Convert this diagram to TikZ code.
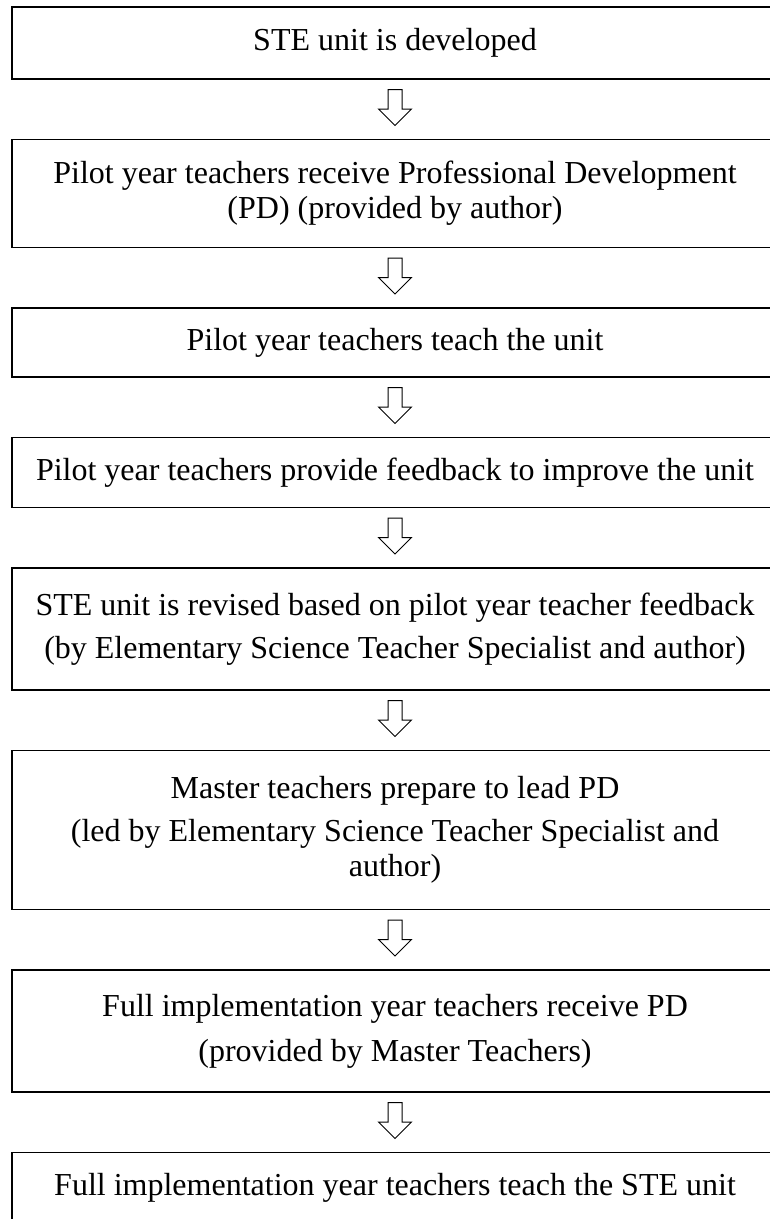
\documentclass[tikz,border=0pt]{standalone}
\usepackage{fontspec}
\setmainfont{Liberation Serif}
\usetikzlibrary{positioning,shapes.arrows}

\begin{document}
\begin{tikzpicture}[
  stepbox/.style={draw,line width=1.7pt,minimum width=766pt,minimum height=#1,
                  align=center,inner sep=0pt,outer sep=0pt,
                  font=\fontsize{32}{35}\selectfont},
  downarr/.style={single arrow,draw,line width=1pt,shape border rotate=270,
                  minimum height=36pt,inner sep=6.5pt,outer sep=0pt,
                  single arrow head extend=9.5pt,single arrow head indent=0pt}
]
\useasboundingbox (0,0) rectangle (770pt,-1219pt);

\node[stepbox=72pt,anchor=north] (s1) at (395pt,-7pt)
  {STE unit is developed};
\node[downarr,below=10.5pt of s1] (a1) {};
\node[stepbox=108pt,below=14pt of a1] (s2)
  {Pilot year teachers receive Professional Development\\(PD) (provided by author)};
\node[downarr,below=10.5pt of s2] (a2) {};
\node[stepbox=69pt,below=14pt of a2] (s3)
  {Pilot year teachers teach the unit};
\node[downarr,below=10.5pt of s3] (a3) {};
\node[stepbox=70pt,below=14pt of a3] (s4)
  {Pilot year teachers provide feedback to improve the unit};
\node[downarr,below=10.5pt of s4] (a4) {};
\node[stepbox=122pt,below=14pt of a4] (s5)
  {STE unit is revised based on pilot year teacher feedback\\[8pt]
   (by Elementary Science Teacher Specialist and author)};
\node[downarr,below=10.5pt of s5] (a5) {};
\node[stepbox=159pt,below=14pt of a5] (s6)
  {Master teachers prepare to lead PD\\[8pt]
   (led by Elementary Science Teacher Specialist and\\author)};
\node[downarr,below=10.5pt of s6] (a6) {};
\node[stepbox=122pt,below=14pt of a6] (s7)
  {Full implementation year teachers receive PD\\[10pt]
   (provided by Master Teachers)};
\node[downarr,below=10.5pt of s7] (a7) {};
\node[stepbox=70pt,below=14pt of a7] (s8)
  {Full implementation year teachers teach the STE unit};
\end{tikzpicture}
\end{document}
